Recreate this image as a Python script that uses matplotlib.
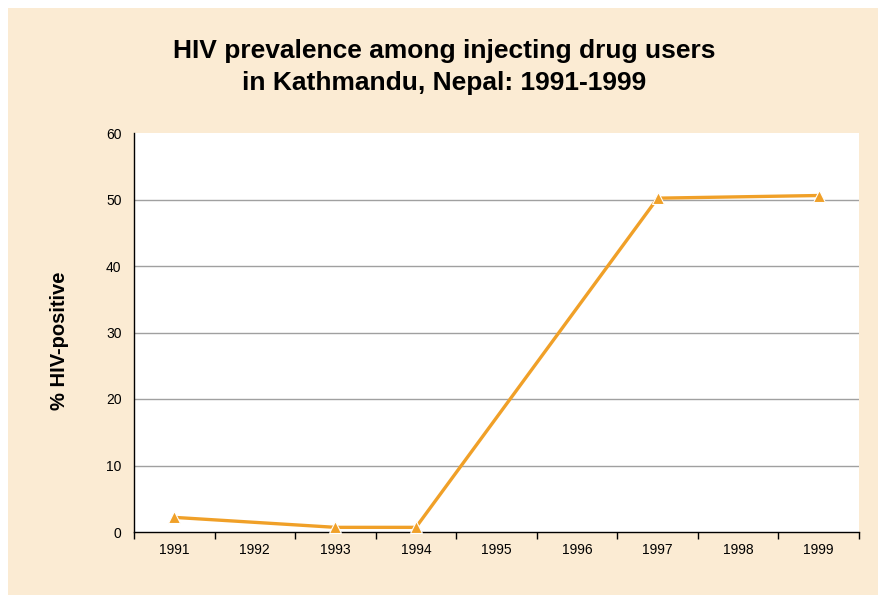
import matplotlib.pyplot as plt
from matplotlib.patches import Rectangle

# data
years = ['1991', '1992', '1993', '1994', '1995', '1996', '1997', '1998', '1999']
obs_years = ['1991', '1993', '1994', '1997', '1999']
hiv_pos = [2.2, 0.7, 0.7, 50.2, 50.6]
yticks = [0, 10, 20, 30, 40, 50, 60]

plt.rcParams['font.family'] = ['Liberation Sans', 'DejaVu Sans']

fig = plt.figure(figsize=(8.79, 5.95), dpi=100)
fig.patch.set_facecolor('white')
# beige panel behind everything
fig.patches.append(Rectangle((8/879, 0), 1 - 8/879, 1 - 8/595, transform=fig.transFigure,
                             facecolor='#FBEBD3', edgecolor='none', zorder=-10))

ax = fig.add_axes([134/879, 1 - 532/595, (859-134)/879, (532-133)/595])
ax.set_facecolor('white')

xpos = [years.index(y) for y in obs_years]
ax.plot(xpos, hiv_pos, color='#F0A028', lw=2.4, marker='^', markersize=8,
        markerfacecolor='#F0A028', markeredgecolor='white', markeredgewidth=0.8,
        solid_joinstyle='miter', zorder=3, clip_on=False)

ax.set_xlim(-0.5, len(years) - 0.5)
ax.set_ylim(0, 60)
ax.set_yticks(yticks)
ax.tick_params(axis='y', length=0, labelsize=10, pad=9)
ax.set_xticks(range(len(years)))
ax.set_xticklabels(years)
ax.set_xticks([i - 0.5 for i in range(len(years) + 1)], minor=True)
ax.tick_params(axis='x', which='major', length=0, labelsize=10, pad=8)
ax.tick_params(axis='x', which='minor', length=5, direction='out', width=1)

for y in yticks[1:-1]:
    ax.axhline(y, color='#A0A0A0', lw=1, zorder=1)

for s in ['top', 'right']:
    ax.spines[s].set_visible(False)
ax.spines['left'].set_linewidth(1)
ax.spines['bottom'].set_linewidth(1)

ax.set_ylabel('% HIV-positive', fontsize=14.5, fontweight='bold')
ax.yaxis.set_label_coords(-(134 - 69) / 725, 0.48)

fig.text(444/879, 1 - 67/595, 'HIV prevalence among injecting drug users\nin Kathmandu, Nepal: 1991-1999',
         ha='center', va='center', fontsize=19, fontweight='bold', linespacing=1.45)

fig.savefig('out.png', dpi=100)
